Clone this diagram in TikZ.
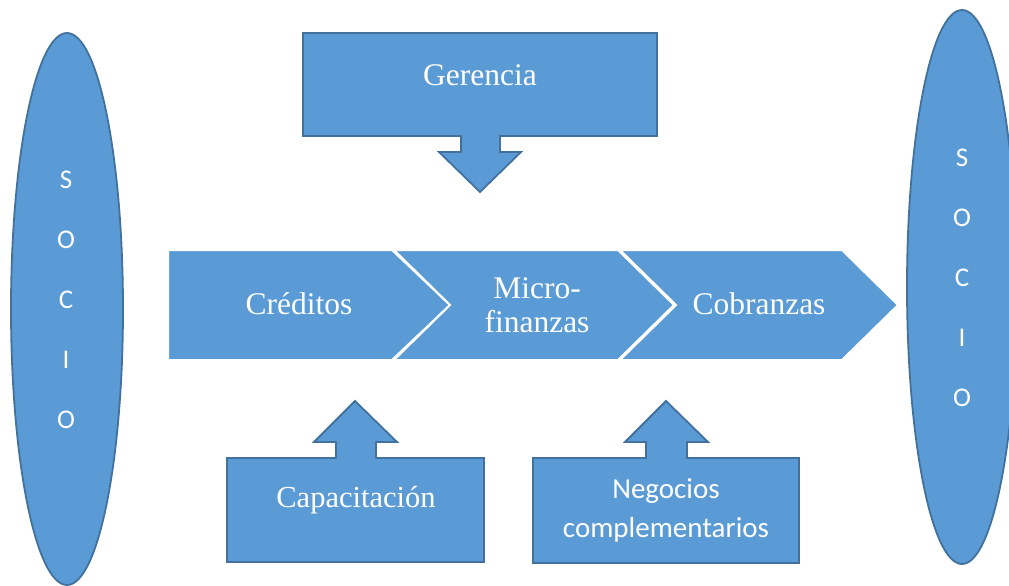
\documentclass[tikz,border=0pt]{standalone}
\usepackage{fontspec}
\setmainfont{Liberation Serif}
\newfontfamily\carlitofont{Carlito}
\usetikzlibrary{shapes.geometric}
\definecolor{fillblue}{HTML}{5B9BD5}
\definecolor{edgeblue}{HTML}{41719C}
\begin{document}
\begin{tikzpicture}[x=1pt,y=-1pt,
  calloutbox/.style={fill=fillblue, draw=edgeblue, line width=1.8pt, line join=miter},
  chevshape/.style={fill=fillblue, draw=white, line width=2pt, line join=miter},
  txtserif/.style={text=white, font=\fontsize{31.5}{34}\selectfont, align=center, inner sep=0pt},
  txtsans/.style={text=white, font=\carlitofont\fontsize{29}{39}\selectfont, align=center, inner sep=0pt},
  socioshape/.style={ellipse, fill=fillblue, draw=edgeblue, line width=1.8pt, inner sep=0pt},
  letters/.style={text=white, font=\carlitofont\fontsize{27}{60}\selectfont, align=center, inner sep=0pt}]
\useasboundingbox (0,0) rectangle (1009,586);
\clip (0,0) rectangle (1009,586);

% Socio ellipses
\node[socioshape, minimum width=112pt, minimum height=552pt] (socioL) at (67,309) {};
\node[letters] (socioLtxt) at (66,300) {S\\O\\C\\I\\O};
\node[socioshape, minimum width=110pt, minimum height=554pt] (socioR) at (962,287) {};
\node[letters] (socioRtxt) at (962,278) {S\\O\\C\\I\\O};

% Gerencia down-arrow callout
\draw[calloutbox] (303,33) -- (657,33) -- (657,136) -- (500,136) -- (500,152) -- (521,152)
  -- (480,192) -- (439,152) -- (461,152) -- (461,136) -- (303,136) -- cycle;
\node[txtserif] (gerencia) at (480,75) {Gerencia};

% Process chevrons
\draw[chevshape] (168,250) -- (392,250) -- (450,305) -- (392,360) -- (168,360) -- cycle;
\draw[chevshape] (394,250) -- (618,250) -- (674,305) -- (618,360) -- (394,360) -- (450,305) -- cycle;
\draw[chevshape] (620,250) -- (842,250) -- (898,305) -- (842,360) -- (620,360) -- (676,305) -- cycle;
\node[txtserif] (creditos) at (299,304) {Créditos};
\node[txtserif] (micro) at (537,305) {Micro-\\finanzas};
\node[txtserif] (cobranzas) at (759,304) {Cobranzas};

% Capacitacion up-arrow callout
\draw[calloutbox] (227,458) -- (336,458) -- (336,442) -- (314,442) -- (355,401) -- (397,442)
  -- (376,442) -- (376,458) -- (484,458) -- (484,562) -- (227,562) -- cycle;
\node[txtserif, font=\fontsize{30.5}{34}\selectfont] (capacitacion) at (356,500) {Capacitación};

% Negocios up-arrow callout
\draw[calloutbox] (533,458) -- (646,458) -- (646,442) -- (625,442) -- (666,401) -- (708,442)
  -- (687,442) -- (687,458) -- (799,458) -- (799,563) -- (533,563) -- cycle;
\node[txtsans] (negocios) at (666,510) {Negocios\\complementarios};
\end{tikzpicture}
\end{document}
